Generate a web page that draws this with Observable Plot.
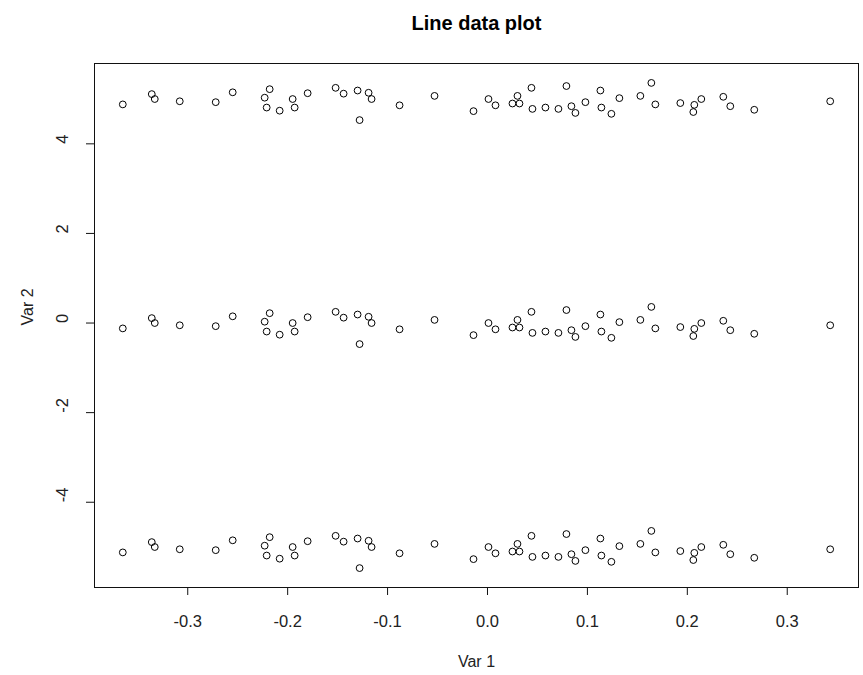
<!DOCTYPE html>
<html>
<head>
<meta charset="utf-8">
<script src="https://cdn.jsdelivr.net/npm/d3@7"></script>
<script src="https://cdn.jsdelivr.net/npm/@observablehq/plot@0.6"></script>
<style>
  html, body { margin: 0; padding: 0; background: #fff; }
  #chart svg { display: block; }
</style>
</head>
<body>
<div id="chart"></div>
<script>
// Var 1 values, shared by the three bands
const var1 = [
  -0.365, -0.336, -0.333, -0.308, -0.272, -0.255, -0.223, -0.221, -0.218, -0.208,
  -0.195, -0.193, -0.180, -0.152, -0.144, -0.130, -0.128, -0.119, -0.116, -0.088,
  -0.053, -0.014, 0.001, 0.008, 0.025, 0.030, 0.032, 0.044, 0.045, 0.058,
  0.071, 0.079, 0.084, 0.088, 0.098, 0.113, 0.114, 0.124, 0.132, 0.153,
  0.164, 0.168, 0.193, 0.206, 0.207, 0.214, 0.236, 0.243, 0.267, 0.343
];

// Var 2, upper band (around 5)
const var2Upper = [
  4.88, 5.11, 5.00, 4.95, 4.93, 5.15, 5.03, 4.81, 5.22, 4.74,
  5.00, 4.81, 5.13, 5.25, 5.12, 5.19, 4.53, 5.14, 5.00, 4.86,
  5.07, 4.73, 5.00, 4.86, 4.90, 5.07, 4.90, 5.25, 4.78, 4.81,
  4.78, 5.29, 4.84, 4.69, 4.93, 5.19, 4.81, 4.67, 5.02, 5.07,
  5.36, 4.88, 4.91, 4.71, 4.87, 5.00, 5.05, 4.84, 4.76, 4.95
];

// Var 2, middle band (around 0)
const var2Middle = [
  -0.12, 0.11, 0.00, -0.05, -0.07, 0.15, 0.03, -0.19, 0.22, -0.26,
  0.00, -0.19, 0.13, 0.25, 0.12, 0.19, -0.47, 0.14, 0.00, -0.14,
  0.07, -0.27, 0.00, -0.14, -0.10, 0.07, -0.10, 0.25, -0.22, -0.19,
  -0.22, 0.29, -0.16, -0.31, -0.07, 0.19, -0.19, -0.33, 0.02, 0.07,
  0.36, -0.12, -0.09, -0.29, -0.13, 0.00, 0.05, -0.16, -0.24, -0.05
];

// Var 2, lower band (around -5)
const var2Lower = [
  -5.12, -4.89, -5.00, -5.05, -5.07, -4.85, -4.97, -5.19, -4.78, -5.26,
  -5.00, -5.19, -4.87, -4.75, -4.88, -4.81, -5.47, -4.86, -5.00, -5.14,
  -4.93, -5.27, -5.00, -5.14, -5.10, -4.93, -5.10, -4.75, -5.22, -5.19,
  -5.22, -4.71, -5.16, -5.31, -5.07, -4.81, -5.19, -5.33, -4.98, -4.93,
  -4.64, -5.12, -5.09, -5.29, -5.13, -5.00, -4.95, -5.16, -5.24, -5.05
];

const xTicks = [-0.3, -0.2, -0.1, 0.0, 0.1, 0.2, 0.3];
const yTicks = [-4, -2, 0, 2, 4];

const titleText = "Line data plot";
const xLabel = "Var 1";
const yLabel = "Var 2";

// long table: one row per point
const rows = [];
for (const band of [var2Upper, var2Middle, var2Lower]) {
  band.forEach((v, i) => rows.push({x: var1[i], y: v}));
}

// domains padded by 4% of the data range on each side
function padded(values) {
  const [lo, hi] = d3.extent(values);
  const p = (hi - lo) * 0.04;
  return [lo - p, hi + p];
}
const xDomain = padded(rows.map(d => d.x));
const yDomain = padded(rows.map(d => d.y));

const font = "'Liberation Sans', Arial, sans-serif";
const ink = "#222";

const chart = Plot.plot({
  width: 863,
  height: 675,
  marginLeft: 94,
  marginRight: 5,
  marginTop: 63,
  marginBottom: 88,
  style: {fontFamily: font, background: "#fff", color: ink},
  x: {domain: xDomain},
  y: {domain: yDomain},
  marks: [
    Plot.frame({stroke: "#111", strokeWidth: 1}),
    Plot.axisX(xTicks, {
      tickSize: 8,
      tickPadding: 20,
      fontSize: 16.5,
      tickFormat: d => d.toFixed(1),
      label: null,
      stroke: "#111",
      fill: ink
    }),
    Plot.axisY(yTicks, {
      tickSize: 8,
      text: null,
      label: null,
      stroke: "#111"
    }),
    Plot.text(yTicks, {
      y: d => d,
      frameAnchor: "left",
      dx: -32,
      rotate: -90,
      text: d => String(d),
      fontSize: 16.5,
      fill: ink
    }),
    Plot.dot(rows, {
      x: "x",
      y: "y",
      r: 3.4,
      stroke: "#000",
      strokeWidth: 1,
      fill: "none"
    }),
    Plot.text([titleText], {
      frameAnchor: "top",
      dy: -48,
      text: d => d,
      fontSize: 20,
      fontWeight: "bold",
      fill: "#000"
    }),
    Plot.text([xLabel], {
      frameAnchor: "bottom",
      dy: 79,
      text: d => d,
      fontSize: 16,
      fill: ink
    }),
    Plot.text([yLabel], {
      frameAnchor: "left",
      dx: -67,
      rotate: -90,
      text: d => d,
      fontSize: 16,
      fill: ink
    })
  ]
});

document.getElementById("chart").appendChild(chart);
</script>
</body>
</html>
